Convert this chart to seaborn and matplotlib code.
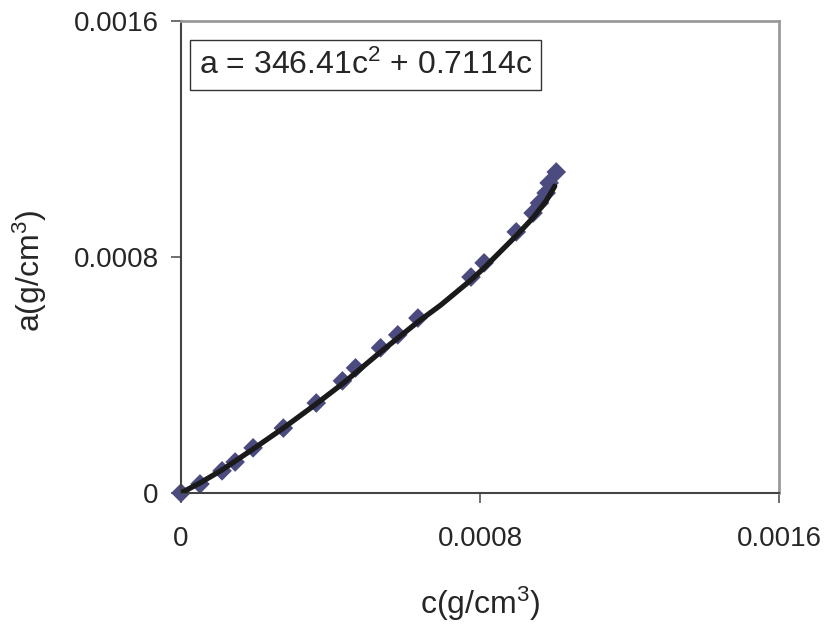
import seaborn as sns
import matplotlib.pyplot as plt
import pandas as pd

c_points = [0, 5.1e-5, 1.10e-4, 1.45e-4, 1.93e-4, 2.74e-4, 3.62e-4, 4.32e-4,
            4.67e-4, 5.34e-4, 5.80e-4, 6.34e-4, 7.76e-4, 8.11e-4, 8.97e-4,
            9.42e-4, 9.59e-4, 9.77e-4, 9.85e-4, 1.004e-3]
a_points = [0, 3.05e-5, 7.5e-5, 1.05e-4, 1.53e-4, 2.20e-4, 3.05e-4, 3.80e-4,
            4.24e-4, 4.92e-4, 5.36e-4, 5.93e-4, 7.32e-4, 7.80e-4, 8.85e-4,
            9.49e-4, 9.83e-4, 1.017e-3, 1.051e-3, 1.088e-3]

# fitted line
c_line = [0, 5.1e-5, 1.10e-4, 1.93e-4, 2.74e-4, 3.62e-4, 4.35e-4, 5.34e-4,
          6.34e-4, 6.95e-4, 7.76e-4, 8.11e-4, 8.97e-4, 9.42e-4, 9.77e-4, 1.0e-3]
a_line = [0, 3.4e-5, 7.8e-5, 1.49e-4, 2.20e-4, 3.02e-4, 3.73e-4, 4.78e-4,
          5.80e-4, 6.37e-4, 7.22e-4, 7.63e-4, 8.72e-4, 9.33e-4, 9.90e-4, 1.04e-3]

ticks = [0, 0.0008, 0.0016]
tick_labels = ['0', '0.0008', '0.0016']
equation = 'a = 346.41c$^2$ + 0.7114c'

sns.set_style('white')
plt.rcParams['font.family'] = ['Liberation Sans', 'DejaVu Sans']
plt.rcParams['mathtext.fontset'] = 'custom'
plt.rcParams['mathtext.rm'] = 'Liberation Sans'
plt.rcParams['mathtext.it'] = 'Liberation Sans'

pts = pd.DataFrame({'c': c_points, 'a': a_points})
fit = pd.DataFrame({'c': c_line, 'a': a_line})

fig = plt.figure(figsize=(8.3, 6.26), dpi=100)
ax = fig.add_axes([0.218, 0.2125, 0.7206, 0.754])

sns.scatterplot(data=pts, x='c', y='a', marker='D', s=100, color='#4b4b80',
                edgecolor='none', ax=ax, zorder=2, clip_on=False)
sns.lineplot(data=fit, x='c', y='a', sort=False, color='#1a1a1a', linewidth=3.8,
             ax=ax, zorder=3)

ax.set_xlim(0, 0.0016)
ax.set_ylim(0, 0.0016)
ax.set_xticks(ticks)
ax.set_xticklabels(tick_labels)
ax.set_yticks(ticks)
ax.set_yticklabels(tick_labels)
ax.tick_params(axis='both', direction='out', length=7, width=1.2, color='#555555',
               labelsize=20, bottom=True, left=True)
ax.tick_params(axis='x', pad=17)
ax.tick_params(axis='y', pad=9)

for side in ['left', 'bottom']:
    ax.spines[side].set_color('#444444')
    ax.spines[side].set_linewidth(1.5)
for side in ['top', 'right']:
    ax.spines[side].set_color('#999999')
    ax.spines[side].set_linewidth(2)

ax.set_xlabel('c(g/cm$^3$)', fontsize=23)
ax.set_ylabel('a(g/cm$^3$)', fontsize=23)
ax.xaxis.set_label_coords(0.5, -0.195)
ax.yaxis.set_label_coords(-0.22, 0.47)

ax.text(0.03, 0.94, equation, transform=ax.transAxes, fontsize=23, va='top', ha='left',
        bbox=dict(boxstyle='square,pad=0.28', facecolor='white', edgecolor='#333333',
                  linewidth=1))

fig.savefig('out.png', dpi=100)
